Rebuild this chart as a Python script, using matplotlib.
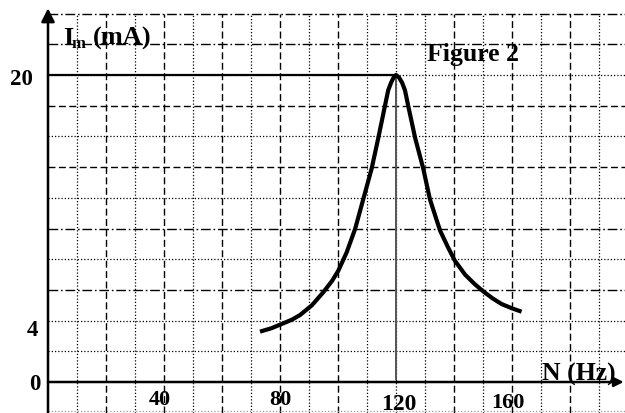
import matplotlib
matplotlib.use("Agg")
import matplotlib.pyplot as plt

# ---- data ----
freq_hz = [73.1, 77.0, 80.6, 84.0, 86.9, 91.0, 94.9, 98.0, 100.1, 103.0, 105.9, 108.7,
           111.6, 113.9, 116.2, 117.3, 118.3, 119.2, 120.0, 121.0, 122.1, 123.1,
           124.2, 126.6, 129.4, 131.7, 135.2, 138.0, 140.3, 143.8, 147.0, 150.1,
           153.3, 156.4, 160.0, 163.3]
current_ma = [3.28, 3.5, 3.78, 4.05, 4.36, 5.0, 5.84, 6.6, 7.25, 8.45, 9.97, 11.9,
              13.9, 15.9, 18.0, 19.0, 19.5, 19.85, 20.0, 19.85, 19.5, 19.0,
              18.0, 15.9, 13.9, 11.9, 9.86, 8.75, 7.9, 7.0, 6.4, 5.9,
              5.45, 5.08, 4.8, 4.58]
peak_n = 120
peak_i = 20
x_tick_values = [40, 80, 120, 160]
x_tick_labels = ["40", "80", "120", "160"]
y_tick_values = [20, 4, 0]
y_tick_labels = ["20", "4", "0"]

v_grid = [10, 20, 30, 40, 50, 60, 70, 80, 90, 100, 110, 120, 130, 140, 150, 160, 170, 180, 190]
v_kind = ['dot', 'dash', 'dot', 'dash', 'dot', 'dash', 'dot', 'dash', 'dot', 'dash',
          'dot', 'dot', 'dot', 'dash', 'dot', 'dash', 'dot', 'dash', 'dot']
h_grid = [2, 4, 6, 8, 10, 12, 14, 16, 18, 20, 22, 24]
h_kind = ['dot', 'dot', 'dashdot', 'dot', 'dashdot', 'dot', 'dash', 'dot', 'dash',
          'dot', 'dashdot', 'dashdot']

styles = {
    'dot': dict(linestyle=(0, (1.0, 1.6)), linewidth=0.9),
    'dash': dict(linestyle=(0, (5, 2.5)), linewidth=1.0),
    'dashdot': dict(linestyle=(0, (7, 2, 1.2, 2)), linewidth=1.0),
}

W, H = 625, 414
X0, Y0 = 48, 383          # pixel position of origin
SX, SY = 2.9, 15.35       # pixels per Hz, per mA

fig = plt.figure(figsize=(W / 100, H / 100), dpi=100)
ax = fig.add_axes([0, 0, 1, 1])
xmin, xmax = -X0 / SX, (W - X0) / SX
ymin, ymax = -(H - Y0) / SY, Y0 / SY
ax.set_xlim(xmin, xmax)
ax.set_ylim(ymin, ymax)
ax.axis('off')

font = dict(family=['Liberation Serif', 'DejaVu Serif'], weight='bold', color='black')

# grid
for v, k in zip(v_grid, v_kind):
    ax.plot([v, v], [ymin, 24], color='black', **styles[k], zorder=1)
for h, k in zip(h_grid, h_kind):
    ax.plot([0, xmax], [h, h], color='black', **styles[k], zorder=1)
ax.plot([0, xmax], [-1.9, -1.9], color='#999999', linestyle=(0, (1.0, 1.6)), linewidth=0.9, zorder=1)

# reference lines to peak
ax.plot([0, peak_n], [peak_i, peak_i], color='black', linewidth=1.6, zorder=2)
ax.plot([peak_n, peak_n], [0.2, peak_i], color='#555555', linewidth=1.4, zorder=2)

# axes with arrows
ax.annotate('', xy=(0, 24.35), xytext=(0, ymin),
            arrowprops=dict(arrowstyle='-|>', lw=1.8, color='black', mutation_scale=20,
                            shrinkA=0, shrinkB=0), zorder=3)
ax.annotate('', xy=(198.5, 0), xytext=(0, 0),
            arrowprops=dict(arrowstyle='-|>', lw=1.8, color='black', mutation_scale=14,
                            shrinkA=0, shrinkB=0), zorder=3)

# curve
ax.plot(freq_hz, current_ma, color='black', linewidth=3.0, solid_capstyle='butt',
        solid_joinstyle='round', zorder=4)

# tick labels
x_label_y = [-1.1, -1.1, -1.4, -1.3]
x_label_dx = [-1.3, 0, 1.0, -1.4]
sizes_x = [16, 16, 17, 16]
for v, lab, yy, dx, s in zip(x_tick_values, x_tick_labels, x_label_y, x_label_dx, sizes_x):
    ax.text(v + dx, yy, lab, ha='center', va='center', fontsize=s, **font)
y_label_x = [-9.0, -5.2, -4.6]
y_label_dy = [-0.2, -0.55, -0.13]
for v, lab, xx, dy in zip(y_tick_values, y_tick_labels, y_label_x, y_label_dy):
    ax.text(xx, v + dy, lab, ha='center', va='center', fontsize=16.5, **font)

# axis titles
def px(x):
    return (x - X0) / SX

def py(y):
    return (Y0 - y) / SY

ax.text(px(63), py(45), 'I', ha='left', va='baseline', fontsize=19, **font)
ax.text(px(72), py(48), 'm', ha='left', va='baseline', fontsize=12, **font)
ax.text(px(93), py(45), '(mA)', ha='left', va='baseline', fontsize=19, **font)
ax.text(px(427), py(61), 'Figure 2', ha='left', va='baseline', fontsize=18.5, **font)
ax.text(px(542), py(381), 'N (Hz)', ha='left', va='baseline', fontsize=18.5, **font)

fig.savefig('out.png', dpi=100)
